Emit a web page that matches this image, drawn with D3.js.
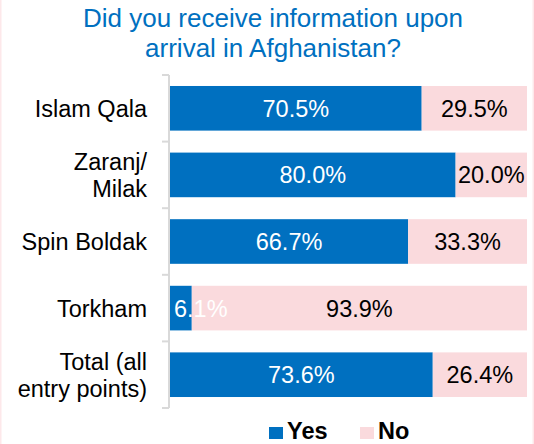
<!DOCTYPE html>
<html lang="en">
<head>
<meta charset="utf-8">
<title>Information upon arrival</title>
<style>
  body { margin: 0; background: #fff; }
  svg { display: block; font-family: "Liberation Sans", Arial, sans-serif; }
</style>
<script src="https://d3js.org/d3.v7.min.js"></script>
</head>
<body>
<script>
// data
const categories = ["Islam Qala", "Zaranj/\nMilak", "Spin Boldak", "Torkham", "Total (all\nentry points)"];
const yesValues = [70.5, 80.0, 66.7, 6.1, 73.6];
const noValues = [29.5, 20.0, 33.3, 93.9, 26.4];
const seriesNames = ["Yes", "No"];
const titleLines = ["Did you receive information upon", "arrival in Afghanistan?"];

const width = 534, height = 444;
const blue = "#0070c0", pink = "#fadadd";
const fs = "23.5px";

const svg = d3.select("body").append("svg")
  .attr("width", width)
  .attr("height", height);

// faint page border
svg.append("rect")
  .attr("x", 0.5).attr("y", -2)
  .attr("width", width - 1).attr("height", height + 4)
  .attr("fill", "none")
  .attr("stroke", "#fde8ea")
  .attr("stroke-width", 2);

const x = d3.scaleLinear().domain([0, 100]).range([170, 527]);
const y = d3.scaleBand().domain(categories).range([75, 408]).paddingInner(0.33).paddingOuter(0.165);

// title
svg.append("g").selectAll("text")
  .data(titleLines)
  .join("text")
  .attr("x", 273)
  .attr("y", (d, i) => 27 + i * 30)
  .attr("text-anchor", "middle")
  .attr("fill", blue)
  .style("font-size", "26px")
  .text(d => d);

const rows = categories.map((c, i) => ({ cat: c, yes: yesValues[i], no: noValues[i] }));

// bars
const g = svg.append("g");
g.selectAll("rect.yes")
  .data(rows)
  .join("rect")
  .attr("class", "yes")
  .attr("x", x(0))
  .attr("y", d => y(d.cat))
  .attr("width", d => x(d.yes) - x(0))
  .attr("height", y.bandwidth())
  .attr("fill", blue);

g.selectAll("rect.no")
  .data(rows)
  .join("rect")
  .attr("class", "no")
  .attr("x", d => x(d.yes))
  .attr("y", d => y(d.cat))
  .attr("width", d => x(d.yes + d.no) - x(d.yes))
  .attr("height", y.bandwidth())
  .attr("fill", pink);

// value labels
g.selectAll("text.yes")
  .data(rows)
  .join("text")
  .attr("class", "yes")
  .attr("y", d => y(d.cat) + y.bandwidth() / 2)
  .attr("dy", "0.36em")
  .attr("text-anchor", "middle")
  .attr("fill", "#fff")
  .style("font-size", fs)
  .text(d => d.yes.toFixed(1) + "%")
  .attr("x", function(d) {
    // keep narrow labels inside the plot area
    const half = this.getComputedTextLength() / 2;
    return Math.max((x(0) + x(d.yes)) / 2, x(0) + 4 + half);
  });

g.selectAll("text.no")
  .data(rows)
  .join("text")
  .attr("class", "no")
  .attr("x", d => (x(d.yes) + x(d.yes + d.no)) / 2)
  .attr("y", d => y(d.cat) + y.bandwidth() / 2)
  .attr("dy", "0.36em")
  .attr("text-anchor", "middle")
  .attr("fill", "#000")
  .style("font-size", fs)
  .text(d => d.no.toFixed(1) + "%");

// axis line and ticks between categories
const axisG = svg.append("g").attr("stroke", "#d9d9d9").attr("stroke-width", 2);
axisG.append("line")
  .attr("x1", 169).attr("x2", 169)
  .attr("y1", y.range()[0]).attr("y2", y.range()[1]);
const bounds = d3.range(categories.length + 1).map(i => y.range()[0] + i * (y.range()[1] - y.range()[0]) / categories.length);
axisG.selectAll("line.tick")
  .data(bounds)
  .join("line")
  .attr("class", "tick")
  .attr("x1", 162).attr("x2", 169)
  .attr("y1", d => d).attr("y2", d => d);

// category labels
const lab = svg.append("g").selectAll("text")
  .data(categories)
  .join("text")
  .attr("text-anchor", "end")
  .attr("fill", "#000")
  .style("font-size", fs)
  .attr("transform", d => `translate(147,${y(d) + y.bandwidth() / 2})`);
lab.each(function(d) {
  const lines = d.split("\n");
  const t = d3.select(this);
  lines.forEach((l, i) => {
    t.append("tspan")
      .attr("x", 0)
      .attr("y", (i - (lines.length - 1) / 2) * 27)
      .attr("dy", "0.36em")
      .text(l);
  });
});

// legend
const legendX = [269, 360];
const leg = svg.append("g").selectAll("g")
  .data(seriesNames)
  .join("g")
  .attr("transform", (d, i) => `translate(${legendX[i]},427)`);
leg.append("rect")
  .attr("width", 14).attr("height", 12)
  .attr("fill", (d, i) => i === 0 ? blue : pink);
leg.append("text")
  .attr("x", 18).attr("y", 12)
  .style("font-size", fs)
  .style("font-weight", "bold")
  .text(d => d);
</script>
</body>
</html>
